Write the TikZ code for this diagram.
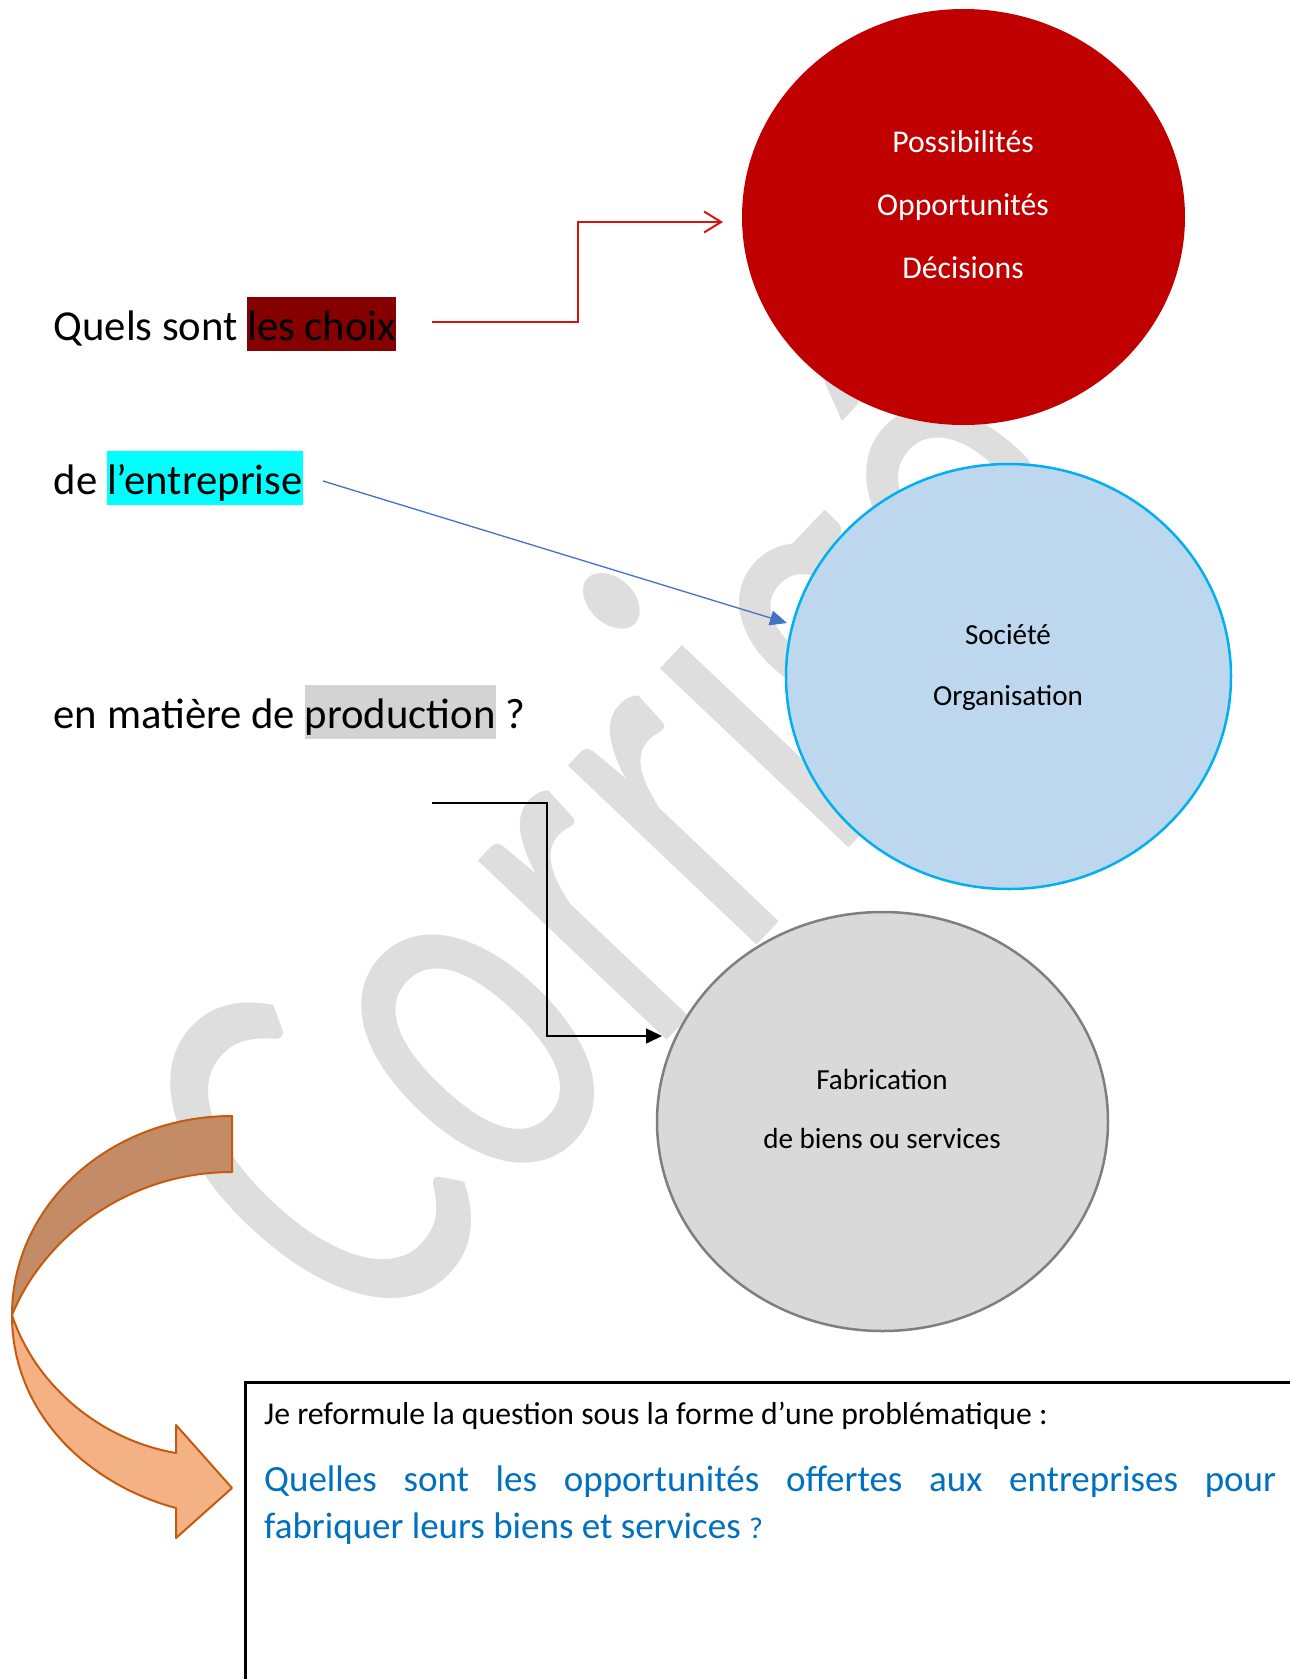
\documentclass[tikz,border=0pt]{standalone}
\usepackage{fontspec}
\setmainfont{Carlito}
\usetikzlibrary{arrows.meta,shapes.geometric}
\definecolor{wmgray}{RGB}{222,222,222}
\definecolor{circred}{RGB}{192,0,0}
\definecolor{circblue}{RGB}{189,215,238}
\definecolor{circblueline}{RGB}{0,176,240}
\definecolor{circgray}{RGB}{217,217,217}
\definecolor{circgrayline}{RGB}{127,127,127}
\definecolor{hlred}{RGB}{133,0,0}
\definecolor{hlcyan}{RGB}{0,255,255}
\definecolor{hlgray}{RGB}{211,211,211}
\definecolor{arrred}{RGB}{215,20,20}
\definecolor{arrblue}{RGB}{68,114,196}
\definecolor{textblue}{RGB}{0,112,192}
\definecolor{orgdark}{RGB}{196,140,102}
\definecolor{orglight}{RGB}{244,177,131}
\definecolor{orgline}{RGB}{197,90,17}
\newcommand{\hlword}[2]{{\setlength{\fboxsep}{0pt}\colorbox{#1}{\rule[-0.26em]{0pt}{1.26em}#2}}}
\begin{document}
\begin{tikzpicture}[x=1pt,y=1pt,
  txt/.style={inner sep=0pt, anchor=base west},
  ctxt/.style={inner sep=0pt, anchor=base},
  bigq/.style={txt, font=\fontsize{42.7}{50}\selectfont},
  circA/.style={ctxt, text=white, font=\fontsize{31.7}{38}\selectfont},
  circB/.style={ctxt, text=black, font=\fontsize{29.1}{35}\selectfont},
  bubble/.style={ellipse, inner sep=0pt},
  connector/.style={line width=1.5pt},
]
\useasboundingbox (0,0) rectangle (1290,-1679);
\clip (0,0) rectangle (1290,-1679);
\fill[white] (0,0) rectangle (1290,-1679);

% watermark
\node[rotate=46.5, yscale=1.453, inner sep=0pt, anchor=base west, text=wmgray,
      font=\fontsize{375}{375}\selectfont] (wm) at (367,-1356) {Co\kern14pt rrigé};

% circles
\node[bubble, minimum width=443, minimum height=416, fill=circred] (redc) at (963.5,-217) {};
\node[bubble, minimum width=445, minimum height=425, fill=circblue, draw=circblueline, line width=2.5pt] (bluec) at (1008.5,-676.5) {};
\node[bubble, minimum width=451, minimum height=419, fill=circgray, draw=circgrayline, line width=2.5pt] (grayc) at (882.5,-1121.5) {};

\node[circA] (t1) at (963,-152) {Possibilités};
\node[circA] (t2) at (963,-215) {Opportunités};
\node[circA] (t3) at (963,-278) {Décisions};
\node[circB] (t4) at (1008,-644) {Société};
\node[circB] (t5) at (1008,-705) {Organisation};
\node[circB] (t6) at (882,-1089) {Fabrication};
\node[circB] (t7) at (882,-1148) {de biens ou services};

% question text
\node[bigq] (q1) at (53.5,-340) {Quels sont \hlword{hlred}{les choix}};
\node[bigq] (q2) at (53.5,-494) {de \hlword{hlcyan}{l’entreprise}};
\node[bigq] (q3) at (53.5,-728) {en matière de \hlword{hlgray}{production} ?};

% connectors
\coordinate (r0) at (432,-322);
\coordinate (r1) at (723,-222);
\draw[arrred, line width=2pt, -{Straight Barb[length=17pt,width=21pt]}] (r0) -- (578,-322) |- (r1);
\coordinate (b0) at (323,-481);
\coordinate (b1) at (787,-623);
\draw[arrblue, line width=1.3pt, -{Triangle[length=17pt,width=15pt]}] (b0) -- (b1);
\coordinate (k0) at (432,-803);
\coordinate (k1) at (662,-1036);
\draw[black, connector, -{Triangle[length=16pt,width=15pt]}] (k0) -- (547,-803) |- (k1);

% curved arrow
\filldraw[fill=orgdark, draw=orgline, line width=2pt, line join=round]
  (232,-1116) .. controls (110,-1116) and (12,-1205) .. (12,-1315)
  .. controls (45,-1235) and (130,-1172) .. (232,-1172) -- cycle;
\filldraw[fill=orglight, draw=orgline, line width=2pt, line join=round]
  (12,-1315) .. controls (12,-1415) and (90,-1485) .. (176,-1508)
  -- (176,-1538) -- (232,-1488) -- (176,-1425) -- (176,-1453)
  .. controls (100,-1440) and (35,-1385) .. (12,-1315) -- cycle;

% box
\node[draw, line width=2.5pt, minimum width=1100, minimum height=400, anchor=north west, inner sep=0pt] (box) at (244,-1381) {};
\node[txt, font=\fontsize{31.7}{38}\selectfont] (h) at (264,-1424) {Je reformule la question sous la forme d’une problématique :};
\node[txt, text=textblue, font=\fontsize{37}{44}\selectfont] (p1) at (264,-1491) {\makebox[1012pt][s]{Quelles sont les opportunités offertes aux entreprises pour}};
\node[txt, text=textblue, font=\fontsize{37}{44}\selectfont] (p2) at (264,-1538) {fabriquer leurs biens et services {\fontsize{30}{30}\selectfont ?}};
\end{tikzpicture}
\end{document}
